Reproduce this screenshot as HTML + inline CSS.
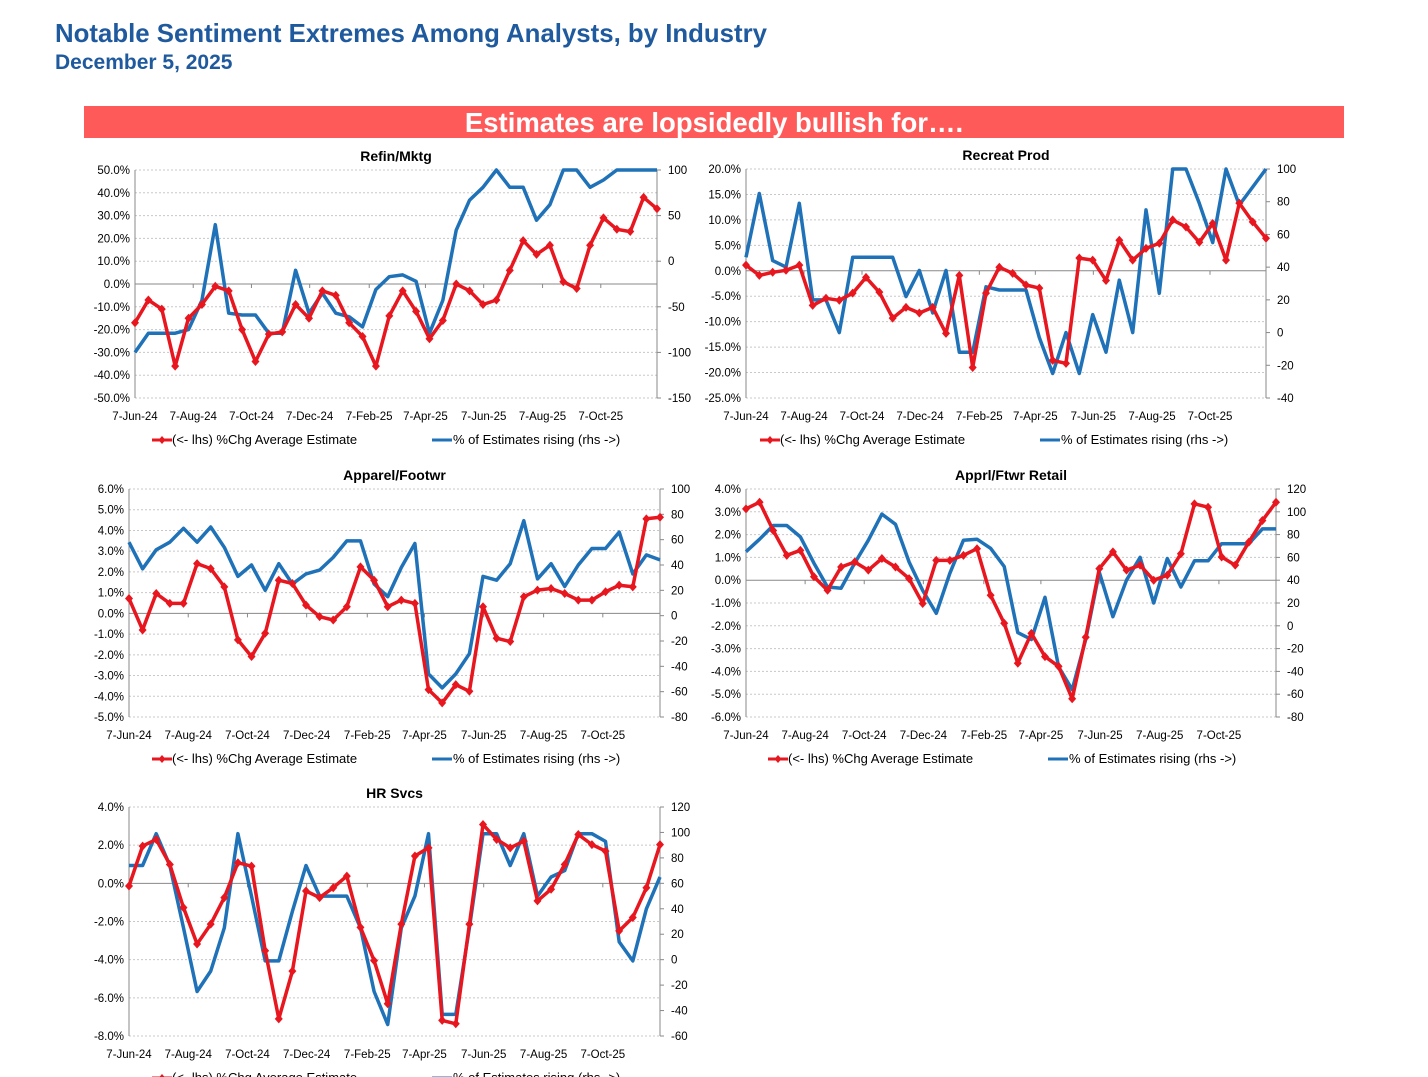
<!DOCTYPE html>
<html><head><meta charset="utf-8"><style>
body{margin:0;width:1428px;height:1077px;overflow:hidden;background:#fff;font-family:"Liberation Sans",sans-serif;position:relative}
#t1{position:absolute;left:55px;top:20px;font-size:25.8px;font-weight:bold;color:#1f5a9e}
#t2{position:absolute;left:55px;top:51px;font-size:21px;font-weight:bold;color:#1f5a9e}
#banner{position:absolute;left:84px;top:106px;width:1260px;height:32px;background:#ff5a5a;color:#fff;font-weight:bold;font-size:27.5px;line-height:33px;text-align:center}
svg{position:absolute;left:0;top:0}
</style></head><body>
<div id="t1">Notable Sentiment Extremes Among Analysts, by Industry</div>
<div id="t2">December 5, 2025</div>
<div id="banner">Estimates are lopsidedly bullish for….</div>
<svg id="chart" width="1428" height="1077"></svg>
<script>
const dateLabels=["7-Jun-24","7-Aug-24","7-Oct-24","7-Dec-24","7-Feb-25","7-Apr-25","7-Jun-25","7-Aug-25","7-Oct-25"];
const dateWeeks=[0,8.7,17.4,26.1,35,43.4,52.1,60.9,69.6];
const refinPct=[-17,-7,-11,-36,-15,-9,-1,-3,-20,-34,-22,-21,-9,-15,-3,-5,-17,-23,-36,-14,-3,-12,-24,-16,0,-3,-9,-7,6,19,13,17,1,-2,17,29,24,23,38,33];
const refinRise=[-100,-79,-79,-79,-75,-43,40,-57,-59,-59,-79,-79,-10,-57,-35,-57,-61,-72,-31,-17,-15,-22,-79,-43,34,67,81,100,81,81,45,62,100,100,81,89,100,100,100,100];
const recPct=[1.1,-0.9,-0.3,0.1,1.1,-6.8,-5.4,-5.8,-4.4,-1.3,-4.2,-9.3,-7.2,-8.3,-7.2,-12.3,-0.9,-19,-4.4,0.7,-0.5,-2.8,-3.4,-17.6,-18.2,2.5,2.1,-1.9,6,2.1,4.4,5.4,10,8.6,5.6,9.3,2.1,13.3,9.6,6.4];
const recRise=[46,85,44,40,79,20,20,0,46,46,46,46,22,38,12,38,-12,-12,28,26,26,26,-3,-25,0,-25,11,-12,32,0,75,24,100,100,79,55,100,78,89,100];
const appPct=[0.72,-0.8,0.96,0.48,0.48,2.4,2.16,1.28,-1.28,-2.08,-0.96,1.6,1.44,0.4,-0.16,-0.32,0.32,2.24,1.6,0.32,0.64,0.48,-3.68,-4.32,-3.44,-3.76,0.32,-1.2,-1.36,0.8,1.12,1.2,0.96,0.64,0.64,1.04,1.36,1.28,4.56,4.64];
const appRise=[58,37,52,58,69,58,70,54,31,40,20,41,25,33,36,46,59,59,25,15,38,57,-46,-57,-46,-30,31,28,41,75,29,41,23,40,53,53,66,33,48,44];
const retPct=[3.13,3.42,2.18,1.09,1.31,0.15,-0.44,0.58,0.8,0.44,0.95,0.58,0.07,-1.02,0.87,0.87,1.09,1.38,-0.66,-1.89,-3.64,-2.33,-3.35,-3.78,-5.2,-2.5,0.51,1.24,0.44,0.66,0,0.22,1.16,3.35,3.2,1.02,0.66,1.67,2.62,3.42];
const retRise=[65,76,88,88,78,55,34,33,55,75,98,89,56,31,11,46,75,76,68,52,-6,-12,25,-36,-56,-12,47,8,40,60,20,59,34,57,57,72,72,72,85,85];
const hrPct=[-0.14,1.95,2.3,0.99,-1.27,-3.18,-2.14,-0.75,1.08,0.9,-3.53,-7.1,-4.6,-0.4,-0.75,-0.23,0.38,-2.31,-4.05,-6.31,-2.14,1.43,1.86,-7.18,-7.36,-2.14,3.08,2.3,1.86,2.21,-0.92,-0.31,0.99,2.56,2.03,1.69,-2.49,-1.79,-0.23,2.03];
const hrRise=[74,74,99,74,25,-25,-9,25,99,50,-1,-1,38,74,50,50,50,25,-25,-51,25,50,99,-43,-43,25,99,99,74,99,50,65,70,99,99,93,14,-1,40,65];

const NS="http://www.w3.org/2000/svg";
const svg=document.getElementById('chart');
function mk(tag,attrs,parent){const e=document.createElementNS(NS,tag);for(const k in attrs)e.setAttribute(k,attrs[k]);(parent||svg).appendChild(e);return e;}
function txt(x,y,s,anchor,size,weight,parent){const t=mk('text',{x:x,y:y,'text-anchor':anchor,'font-size':size,'font-weight':weight||'normal',fill:'#000','font-family':'Liberation Sans, sans-serif'},parent);t.textContent=s;return t;}

function drawChart(cfg){
  const g=mk('g',{});
  
  
  const L=cfg.L,R=cfg.R,T=cfg.T,B=cfg.B;
  const yl=v=>T+(cfg.lmax-v)/(cfg.lmax-cfg.lmin)*(B-T);
  const yr=v=>T+(cfg.rmax-v)/(cfg.rmax-cfg.rmin)*(B-T);
  const xw=w=>L+w/78*(R-L);
  const xi=(i,n)=>L+i/(n-1)*(R-L);
  const tt=txt((L+R)/2,T-9,cfg.title,'middle',14,'bold',g);
  
  
  for(let v=cfg.lmax;v>=cfg.lmin-1e-9;v-=cfg.lstep){
    const y=yl(v);
    if(Math.abs(v)>1e-9) mk('line',{x1:L,x2:R,y1:y,y2:y,stroke:'#c8c8c8','stroke-width':1,'stroke-dasharray':'2,2'},g);
    const lt=txt(L-5,y+4,v.toFixed(1)+'%','end',11.5,'normal',g);
    
    
  }
  for(let v=cfg.rmax;v>=cfg.rmin-1e-9;v-=cfg.rstep){
    const y=yr(v);
    mk('line',{x1:R,x2:R+4,y1:y,y2:y,stroke:'#888'},g);
    const rt=txt(R+11,y+4,String(Math.round(v)),'start',11.5,'normal',g);
    
    
  }
  mk('line',{x1:L,x2:L,y1:T,y2:B,stroke:'#888'},g);
  mk('line',{x1:R,x2:R,y1:T,y2:B,stroke:'#888'},g);
  mk('line',{x1:L,x2:R,y1:yl(0),y2:yl(0),stroke:'#888'},g);
  dateLabels.forEach((d,i)=>{const x=xw(dateWeeks[i]);
    mk('line',{x1:x,x2:x,y1:yl(0),y2:yl(0)+4,stroke:'#888'},g);
    const xt=txt(x,B+22,d,'middle',11.5,'normal',g);
    
    });
  const rp=cfg.rise.map((v,i)=>xi(i,cfg.rise.length).toFixed(1)+','+yr(v).toFixed(1)).join(' ');
  const bl=mk('polyline',{points:rp,fill:'none',stroke:'#1f72b8','stroke-width':3.5,'stroke-linejoin':'round'},g);
  
  
  const pp=cfg.pct.map((v,i)=>xi(i,cfg.pct.length).toFixed(1)+','+yl(v).toFixed(1)).join(' ');
  const rl=mk('polyline',{points:pp,fill:'none',stroke:'#e8161e','stroke-width':3.5,'stroke-linejoin':'round'},g);
  
  
  cfg.pct.forEach((v,i)=>{const x=xi(i,cfg.pct.length),y=yl(v);
    const m=mk('polygon',{points:`${x},${y-4.5} ${x+4},${y} ${x},${y+4.5} ${x-4},${y}`,fill:'#e8161e'},g);
    
    });
  const ly=B+46, lx=cfg.lx;
  const lg=mk('g',{},g);
  
  
  mk('line',{x1:lx,x2:lx+20,y1:ly-4,y2:ly-4,stroke:'#e8161e','stroke-width':3},lg);
  mk('polygon',{points:`${lx+10},${ly-8} ${lx+13.5},${ly-4} ${lx+10},${ly} ${lx+6.5},${ly-4}`,fill:'#e8161e'},lg);
  txt(lx+20,ly,'(<- lhs)  %Chg Average Estimate','start',13,'normal',lg).setAttribute('xml:space','preserve');
  mk('line',{x1:lx+280,x2:lx+300,y1:ly-4,y2:ly-4,stroke:'#1f72b8','stroke-width':3},lg);
  txt(lx+301,ly,'% of Estimates rising (rhs ->)','start',13,'normal',lg);
}
drawChart({name:'refin-mktg-chart',title:'Refin/Mktg',L:135,R:657,T:170,B:398,lmax:50,lmin:-50,lstep:10,rmax:100,rmin:-150,rstep:50,pct:refinPct,rise:refinRise,lx:152});
drawChart({name:'recreat-prod-chart',title:'Recreat Prod',L:746,R:1266,T:169,B:398,lmax:20,lmin:-25,lstep:5,rmax:100,rmin:-40,rstep:20,pct:recPct,rise:recRise,lx:760});
drawChart({name:'apparel-footwr-chart',title:'Apparel/Footwr',L:129,R:660,T:489,B:717,lmax:6,lmin:-5,lstep:1,rmax:100,rmin:-80,rstep:20,pct:appPct,rise:appRise,lx:152});
drawChart({name:'apprl-ftwr-retail-chart',title:'Apprl/Ftwr Retail',L:746,R:1276,T:489,B:717,lmax:4,lmin:-6,lstep:1,rmax:120,rmin:-80,rstep:20,pct:retPct,rise:retRise,lx:768});
drawChart({name:'hr-svcs-chart',title:'HR Svcs',L:129,R:660,T:807,B:1036,lmax:4,lmin:-8,lstep:2,rmax:120,rmin:-60,rstep:20,pct:hrPct,rise:hrRise,lx:152});
</script>
</body></html>
